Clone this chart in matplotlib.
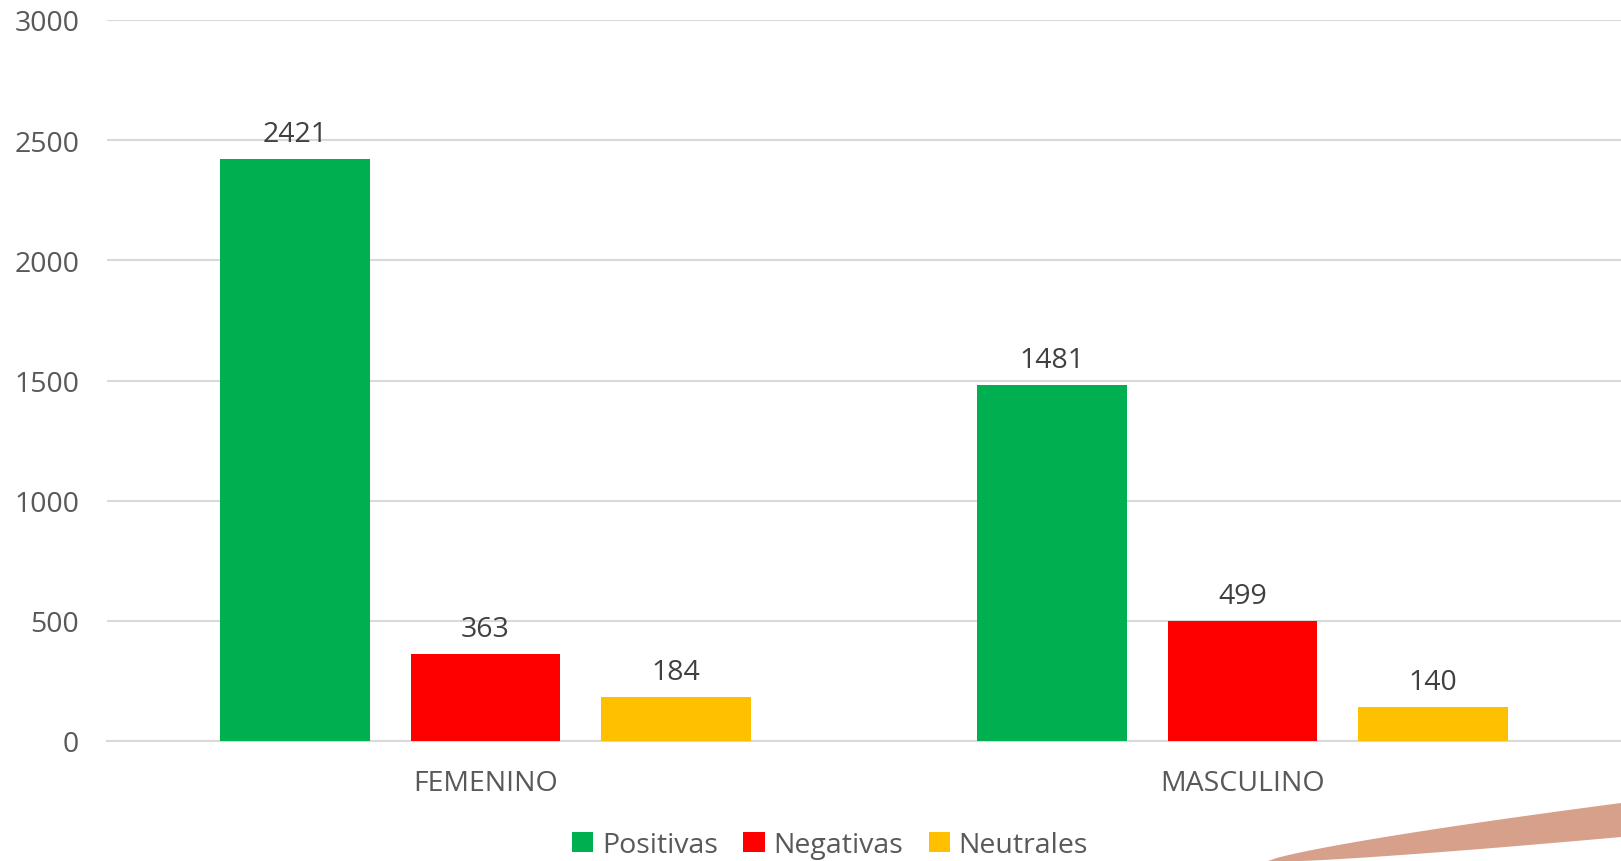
import numpy as np
import matplotlib.pyplot as plt
from matplotlib.patches import Polygon

# data
categorias = ['FEMENINO', 'MASCULINO']
series = ['Positivas', 'Negativas', 'Neutrales']
positivas = [2421, 1481]
negativas = [363, 499]
neutrales = [184, 140]
colores = ['#00B050', '#FF0000', '#FFC000']

plt.rcParams['font.family'] = ['Open Sans', 'DejaVu Sans']

W, H = 1621, 862
fig = plt.figure(figsize=(W / 100, H / 100), dpi=100)
ax = fig.add_axes([107 / W, 1 - 742 / H, (W - 107) / W, (742 - 21) / H])

x = np.arange(len(categorias))
ancho = 0.198
paso = 0.252
for i, (nombre, vals, col) in enumerate(zip(series, [positivas, negativas, neutrales], colores)):
    pos = x + (i - 1) * paso
    barras = ax.bar(pos, vals, width=ancho, color=col, label=nombre, zorder=3)
    for b, v in zip(barras, vals):
        ax.annotate(str(v), (b.get_x() + b.get_width() / 2, v), xytext=(0, 8),
                    textcoords='offset points', ha='center', va='bottom',
                    fontsize=20.5, color='#404040')

ax.set_xlim(-0.5, 1.5)
ax.set_ylim(0, 3000)
ax.set_yticks(range(0, 3001, 500))
ax.set_xticks(x)
ax.set_xticklabels(categorias)
ax.grid(axis='y', color='#D9D9D9', linewidth=1.5, zorder=0)
for s in ['top', 'right', 'left']:
    ax.spines[s].set_visible(False)
ax.spines['bottom'].set_color('#D9D9D9')
ax.spines['bottom'].set_linewidth(1.5)
ax.tick_params(axis='both', length=0, labelsize=20.5, labelcolor='#595959')
ax.tick_params(axis='x', pad=20)
ax.tick_params(axis='y', pad=20)

fig.legend(loc='center', bbox_to_anchor=(830 / W, 1 - 846 / H), ncol=3, frameon=False,
           fontsize=20.5, labelcolor='#595959', handlelength=0.75, handleheight=0.75,
           handletextpad=0.3, columnspacing=0.9)

# decorative swoosh bottom right
t = np.linspace(0, 1, 40)
top_x = 1268 + (W - 1268) * t
top_y = 862 - 58 * t ** 0.8
bot_x = 1300 + (W - 1300) * t[::-1]
bot_y = 862 - 24 * t[::-1] ** 1.2
pts = np.column_stack([np.r_[top_x, bot_x], np.r_[top_y, bot_y]])
pts[:, 0] /= W
pts[:, 1] = 1 - pts[:, 1] / H
fig.patches.append(Polygon(pts, closed=True, transform=fig.transFigure,
                           facecolor='#D6A08B', edgecolor='none'))

fig.savefig('out.png', dpi=100)
